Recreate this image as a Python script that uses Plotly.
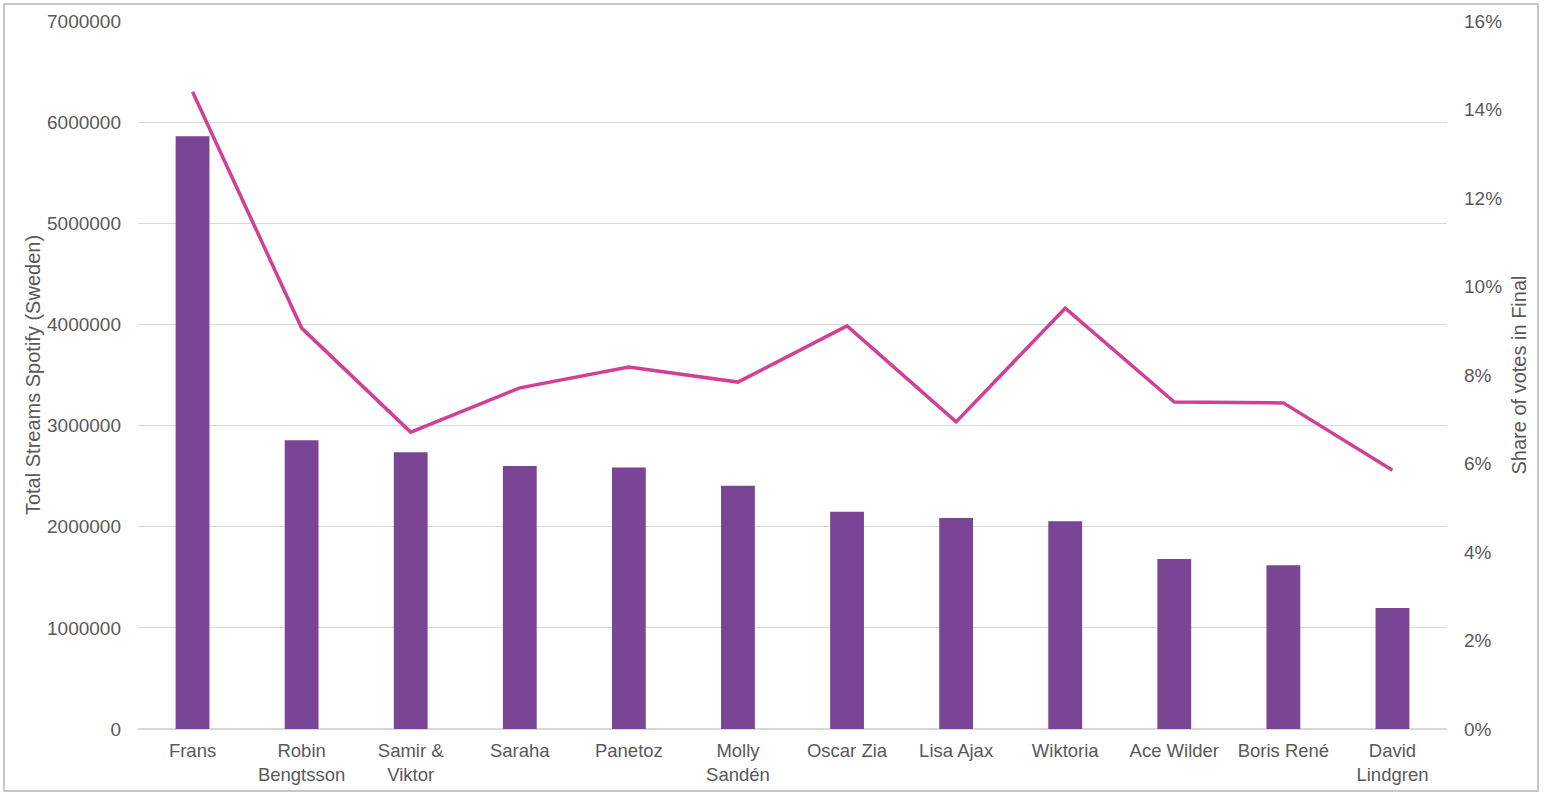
import plotly.graph_objects as go

# artists in the final, as shown on the x axis
artists = ["Frans", "Robin<br>Bengtsson", "Samir &<br>Viktor", "Saraha", "Panetoz",
           "Molly<br>Sandén", "Oscar Zia", "Lisa Ajax", "Wiktoria", "Ace Wilder",
           "Boris René", "David<br>Lindgren"]

# total spotify streams in Sweden (bars, left axis)
streams = [5860000, 2855000, 2737000, 2600000, 2585000, 2404000,
           2147000, 2085000, 2055000, 1680000, 1620000, 1196000]

# share of votes in the final (line, right axis)
vote_share = [0.1440, 0.0906, 0.0671, 0.0771, 0.0818, 0.0784,
              0.0911, 0.0694, 0.0951, 0.0739, 0.0737, 0.0585]

left_ticks = [0, 1000000, 2000000, 3000000, 4000000, 5000000, 6000000, 7000000]
right_ticks = [0, 0.02, 0.04, 0.06, 0.08, 0.10, 0.12, 0.14, 0.16]

grey = "#595959"
font = "Liberation Sans, Arial, sans-serif"

fig = go.Figure()
fig.add_trace(go.Bar(x=artists, y=streams, marker_color="#7A4594",
                     marker_line_width=0, name="Total Streams"))
fig.add_trace(go.Scatter(x=artists, y=vote_share, yaxis="y2", mode="lines",
                         line=dict(color="#D23F97", width=3.5), name="Share of votes"))

fig.update_layout(
    width=1546, height=794,
    margin=dict(l=138, r=99, t=21, b=65),
    plot_bgcolor="white", paper_bgcolor="white",
    showlegend=False,
    bargap=0.69,
    font=dict(family=font, size=18, color=grey),
    xaxis=dict(showgrid=False, showline=False, ticks="", tickfont=dict(size=18.5),
               ticklabelstandoff=8, automargin=False),
    yaxis=dict(range=[0, 7000000], tickvals=left_ticks, tickformat="d",
               tickfont=dict(size=19), automargin=False,
               gridcolor="#D9D9D9", gridwidth=1, zeroline=True, zerolinecolor="#D9D9D9",
               showline=False, ticks="", ticklabelstandoff=16,
               title=dict(text="Total Streams Spotify (Sweden)", font=dict(size=20, color=grey),
                          standoff=1)),
    yaxis2=dict(range=[0, 0.16], tickvals=right_ticks, tickformat=".0%",
                tickfont=dict(size=19), automargin=False,
                overlaying="y", side="right", showgrid=False, zeroline=False,
                showline=False, ticks="", ticklabelstandoff=16,
                title=dict(text="Share of votes in Final", font=dict(size=20, color=grey),
                           standoff=10)),
)

# light grey frame around the whole chart
fig.add_shape(type="rect", xref="paper", yref="paper",
              x0=-0.1024, x1=1.0695, y0=-0.0876, y1=1.024,
              line=dict(color="#C8C8C8", width=2), layer="below")

# the page's default body margin would push the figure 8px in
fig.write_html("out.html", config={"displayModeBar": False},
               post_script="document.body.style.margin='0';")
